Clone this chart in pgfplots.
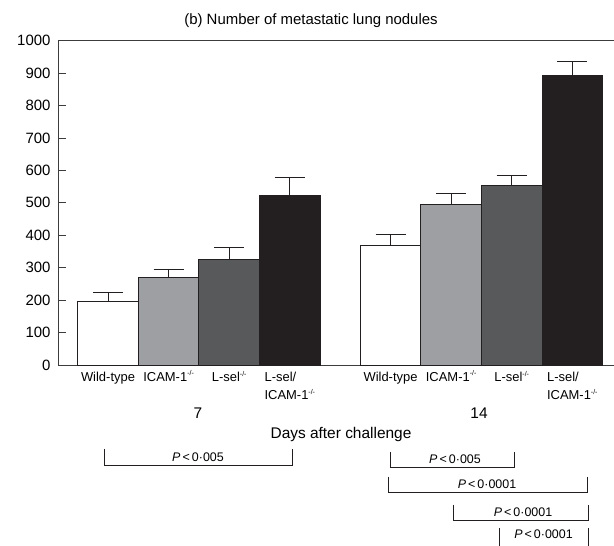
\documentclass[border=0pt]{standalone}
\usepackage{fontspec}
\setmainfont{Liberation Sans}
\usepackage{pgfplots}
\pgfplotsset{compat=1.18}
\definecolor{edge}{HTML}{231F20}
\definecolor{axisc}{HTML}{3C3C3C}
\definecolor{cicam}{HTML}{9E9FA3}
\definecolor{clsel}{HTML}{58595B}
\definecolor{cdko}{HTML}{231F20}
\newcommand{\ko}{\smash{\raisebox{0.45em}{\fontsize{7}{7}\selectfont -/-}}}
\newcommand{\Plab}[1]{\textit{P}\,<\,#1}
\begin{document}
\begin{tikzpicture}[x=1bp,y=1bp]
\useasboundingbox (0,0) rectangle (614,546);
\begin{axis}[
  at={(58bp,181bp)}, anchor=south west,
  scale only axis, width=556bp, height=324.3bp,
  xmin=58, xmax=614, ymin=0, ymax=1000,
  axis x line=box, axis y line=left,
  axis line style={-, draw=axisc, line width=0.9bp},
  ytick={0,100,...,1000},
  tick align=inside,
  major tick length=8bp,
  ytick style={draw=axisc, line width=0.9bp},
  yticklabel style={font=\fontsize{15}{18}\selectfont, xshift=-4bp},
  /pgf/number format/assume math mode=true,
  /pgf/number format/1000 sep={},
  xtick={108,168.6,229.2,289.8,390.5,451.1,511.7,572.3},
  xticklabels={Wild-type, ICAM-1\ko, L-sel\ko, {L-sel/\\ICAM-1\ko}, Wild-type, ICAM-1\ko, L-sel\ko, {L-sel/\\ICAM-1\ko}},
  xtick style={draw=none},
  xticklabel style={font=\fontsize{13}{18}\selectfont, align=left, anchor=north, yshift=-4bp},
  clip=false,
  every axis plot/.append style={ybar, bar width=60.6, bar shift=0pt, draw=edge, line width=0.9bp,
    error bars/y dir=plus, error bars/y explicit,
    error bars/error bar style={line width=0.9bp, draw=edge},
    error bars/error mark options={rotate=90, mark size=15bp, line width=0.9bp, draw=edge}},
]
\addplot[fill=white] coordinates {(108,195) +- (0,28) (390.5,368) +- (0,34)};
\addplot[fill=cicam] coordinates {(168.6,269) +- (0,27) (451.1,495) +- (0,35)};
\addplot[fill=clsel] coordinates {(229.2,326) +- (0,35) (511.7,555) +- (0,29)};
\addplot[fill=cdko] coordinates {(289.8,522) +- (0,57) (572.3,892) +- (0,45)};
\end{axis}
\node[font=\fontsize{15}{18}\selectfont, anchor=base] at (311,521) {(b) Number of metastatic lung nodules};
\node[font=\fontsize{15.5}{18}\selectfont, anchor=base] at (198,127) {7};
\node[font=\fontsize{15.5}{18}\selectfont, anchor=base] at (479,127) {14};
\node[font=\fontsize{15.5}{18}\selectfont, anchor=base] at (341,107) {Days after challenge};
\begin{scope}[draw=edge, line width=0.8bp]
\draw (104,97) -- (104,81) -- (292,81) -- (292,97);
\draw (390,94) -- (390,79) -- (514,79) -- (514,94);
\draw (388,69) -- (388,54) -- (587,54) -- (587,69);
\draw (453,41) -- (453,26) -- (588,26) -- (588,41);
\draw (499,18) -- (499,0);
\draw (588,18) -- (588,0);
\end{scope}
\begin{scope}[font=\fontsize{12.5}{15}\selectfont]
\node[anchor=base] at (198,84) {\Plab{0·005}};
\node[anchor=base] at (455,82) {\Plab{0·005}};
\node[anchor=base] at (487,57.5) {\Plab{0·0001}};
\node[anchor=base] at (523,29.3) {\Plab{0·0001}};
\node[anchor=base] at (543.5,7.5) {\Plab{0·0001}};
\end{scope}
\end{tikzpicture}
\end{document}
